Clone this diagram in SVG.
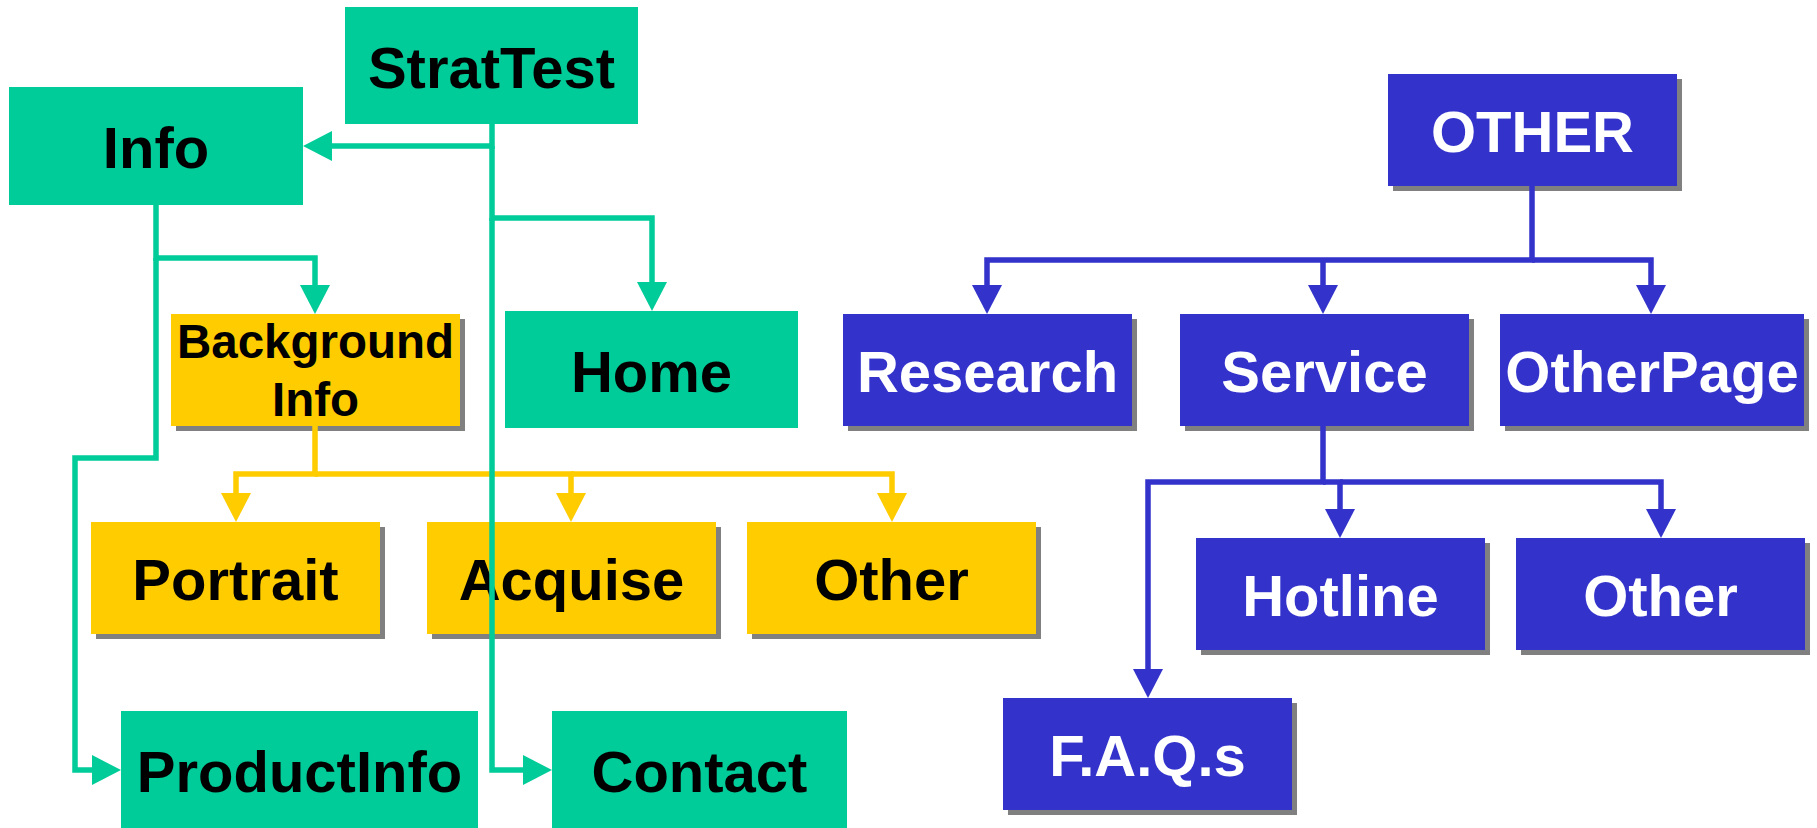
<svg xmlns="http://www.w3.org/2000/svg" width="1817" height="828" viewBox="0 0 1817 828">
<style>
.g{fill:#00CC99}
.y{fill:#FFCC00}
.b{fill:#3333CC}
.sh{fill:#808080}
text{font-family:"Liberation Sans",Arial,sans-serif;font-weight:bold;text-anchor:middle}
.t{font-size:58px;fill:#000}
.tw{font-size:58px;fill:#fff}
.ts{font-size:47.5px;fill:#000}
.cg{fill:none;stroke:#00CC99;stroke-width:5.5;stroke-linejoin:miter}
.cy{fill:none;stroke:#FFCC00;stroke-width:5.5;stroke-linejoin:miter}
.cb{fill:none;stroke:#3333CC;stroke-width:5.5;stroke-linejoin:miter}
</style>
<defs>
<marker id="aG" markerUnits="userSpaceOnUse" markerWidth="30" markerHeight="32" refX="0" refY="15" orient="auto" viewBox="0 0 30 30"><path d="M0,0 L29,15 L0,30 z" fill="#00CC99"/></marker>
<marker id="aY" markerUnits="userSpaceOnUse" markerWidth="30" markerHeight="32" refX="0" refY="15" orient="auto" viewBox="0 0 30 30"><path d="M0,0 L29,15 L0,30 z" fill="#FFCC00"/></marker>
<marker id="aB" markerUnits="userSpaceOnUse" markerWidth="30" markerHeight="32" refX="0" refY="15" orient="auto" viewBox="0 0 30 30"><path d="M0,0 L29,15 L0,30 z" fill="#3333CC"/></marker>
</defs>
<rect width="1817" height="828" fill="#fff"/>

<g id="n-strattest"><rect class="g" x="345" y="7" width="293" height="117"/><text class="t" x="491.5" y="88">StratTest</text></g>
<g id="n-info"><rect class="g" x="9" y="87" width="294" height="118"/><text class="t" x="156" y="168">Info</text></g>
<g id="n-home"><rect class="g" x="505" y="311" width="293" height="117"/><text class="t" x="651.5" y="391.5">Home</text></g>
<g id="n-productinfo"><rect class="g" x="121" y="711" width="357" height="117"/><text class="t" x="299.5" y="791.5">ProductInfo</text></g>
<g id="n-contact"><rect class="g" x="552" y="711" width="295" height="117"/><text class="t" x="699.5" y="791.5">Contact</text></g>

<g id="n-background"><rect class="sh" x="176" y="319" width="289" height="112"/><rect class="y" x="171" y="314" width="289" height="112"/><text class="ts" x="315.5" y="358">Background</text><text class="ts" x="315.5" y="416">Info</text></g>
<g id="n-portrait"><rect class="sh" x="96" y="527" width="289" height="112"/><rect class="y" x="91" y="522" width="289" height="112"/><text class="t" x="235.5" y="599.5">Portrait</text></g>
<g id="n-acquise"><rect class="sh" x="432" y="527" width="289" height="112"/><rect class="y" x="427" y="522" width="289" height="112"/><text class="t" x="571.5" y="599.5">Acquise</text></g>
<g id="n-other-y"><rect class="sh" x="752" y="527" width="289" height="112"/><rect class="y" x="747" y="522" width="289" height="112"/><text class="t" x="891.5" y="599.5">Other</text></g>

<g id="n-OTHER"><rect class="sh" x="1393" y="79" width="289" height="112"/><rect class="b" x="1388" y="74" width="289" height="112"/><text class="tw" x="1532.5" y="152">OTHER</text></g>
<g id="n-research"><rect class="sh" x="848" y="319" width="289" height="112"/><rect class="b" x="843" y="314" width="289" height="112"/><text class="tw" x="987.5" y="392">Research</text></g>
<g id="n-service"><rect class="sh" x="1185" y="319" width="289" height="112"/><rect class="b" x="1180" y="314" width="289" height="112"/><text class="tw" x="1324.5" y="392">Service</text></g>
<g id="n-otherpage"><rect class="sh" x="1505" y="319" width="304" height="112"/><rect class="b" x="1500" y="314" width="304" height="112"/><text class="tw" x="1652" y="392">OtherPage</text></g>
<g id="n-hotline"><rect class="sh" x="1201" y="543" width="289" height="112"/><rect class="b" x="1196" y="538" width="289" height="112"/><text class="tw" x="1340.5" y="616">Hotline</text></g>
<g id="n-other-b"><rect class="sh" x="1521" y="543" width="289" height="112"/><rect class="b" x="1516" y="538" width="289" height="112"/><text class="tw" x="1660.5" y="616">Other</text></g>
<g id="n-faqs"><rect class="sh" x="1008" y="703" width="289" height="112"/><rect class="b" x="1003" y="698" width="289" height="112"/><text class="tw" x="1147.5" y="775.5">F.A.Q.s</text></g>

<g id="connectors">
<path class="cy" d="M315,426 V474 H236 V493" marker-end="url(#aY)"/>
<path class="cy" d="M315,474 H571 V493" marker-end="url(#aY)"/>
<path class="cy" d="M571,474 H892 V493" marker-end="url(#aY)"/>
<path class="cg" d="M492,124 V146 H332" marker-end="url(#aG)"/>
<path class="cg" d="M492,146 V218 H652 V282" marker-end="url(#aG)"/>
<path class="cg" d="M492,218 V770 H523" marker-end="url(#aG)"/>
<path class="cg" d="M156,205 V258 H315 V285" marker-end="url(#aG)"/>
<path class="cg" d="M156,258 V458 H75 V770 H92" marker-end="url(#aG)"/>
<path class="cb" d="M1532,186 V260 H987 V285" marker-end="url(#aB)"/>
<path class="cb" d="M1323,260 V285" marker-end="url(#aB)"/>
<path class="cb" d="M1532,260 H1651 V285" marker-end="url(#aB)"/>
<path class="cb" d="M1323,426 V482 H1148 V669" marker-end="url(#aB)"/>
<path class="cb" d="M1323,482 H1340 V509" marker-end="url(#aB)"/>
<path class="cb" d="M1340,482 H1661 V509" marker-end="url(#aB)"/>
</g>
</svg>
